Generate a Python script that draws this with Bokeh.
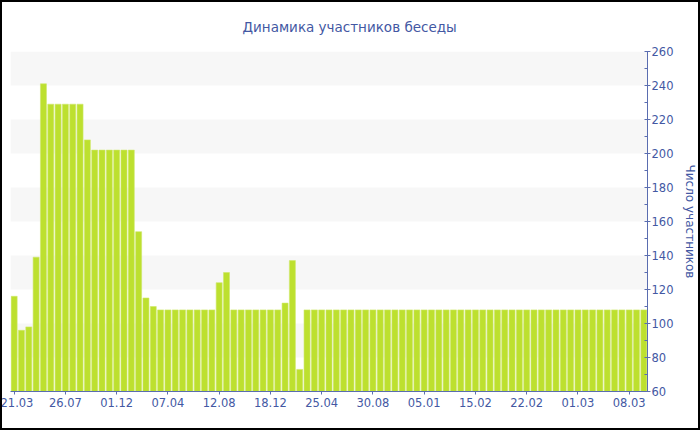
from bokeh.plotting import figure
from bokeh.models import (ColumnDataSource, FixedTicker, BoxAnnotation, LinearAxis,
                          Range1d, InlineStyleSheet)
from bokeh.embed import file_html
from bokeh.resources import INLINE

# Data: one bar per observation, date labels every 7th bar
tick_labels = ["21.03", "26.07", "01.12", "07.04", "12.08", "18.12", "25.04",
               "30.08", "05.01", "15.02", "22.02", "01.03", "08.03"]
participants = [116, 96, 98, 139, 241, 229, 229, 229, 229, 229,
                208, 202, 202, 202, 202, 202, 202, 154, 115, 110,
                108, 108, 108, 108, 108, 108, 108, 108, 124, 130,
                108, 108, 108, 108, 108, 108, 108, 112, 137, 73,
                108, 108, 108, 108, 108, 108, 108, 108, 108, 108,
                108, 108, 108, 108, 108, 108, 108, 108, 108, 108,
                108, 108, 108, 108, 108, 108, 108, 108, 108, 108,
                108, 108, 108, 108, 108, 108, 108, 108, 108, 108,
                108, 108, 108, 108, 108, 108, 108]
label_step = 7
y_min, y_max = 60, 260
band_edges = [(80, 100), (120, 140), (160, 180), (200, 220), (240, 260)]

idx = list(range(len(participants)))
src = ColumnDataSource(data=dict(x=idx, top=participants))

BLUE = "#4358a3"
AXIS = "#5a6db0"

p = figure(width=700, height=430, output_backend="svg", toolbar_location=None,
           x_range=Range1d(-0.5, len(participants) - 0.5),
           y_range=Range1d(y_min, y_max),
           y_axis_location=None, x_axis_location="below",
           min_border_left=10, min_border_right=50, min_border_top=8,
           min_border_bottom=39)
p.margin = (0, 0, 0, 0)
p.stylesheets = [InlineStyleSheet(css=(
    ":host::after { content: ''; position: absolute; left: 0; top: 0; "
    "width: 700px; height: 430px; border: 2px solid black; box-sizing: border-box; "
    "pointer-events: none; z-index: 100; }"))]

p.title.text = "Динамика участников беседы"
p.title.text_font = "DejaVu Sans"
p.title.text_font_size = "13.5px"
p.title.text_font_style = "normal"
p.title.text_color = BLUE
p.title.align = "left"
p.title.offset = 232
p.title.standoff = 33

p.grid.visible = False
p.outline_line_color = None
p.background_fill_color = "white"
p.border_fill_color = "white"

for lo, hi in band_edges:
    p.add_layout(BoxAnnotation(bottom=lo, top=hi, fill_color="#f7f7f7",
                               fill_alpha=1.0, line_color=None, level="underlay"))

p.vbar(x="x", top="top", bottom=y_min, width=0.82, source=src,
       fill_color="#bde02f", line_color="#cfe86a", line_width=0.6)

# x axis
xa = p.xaxis[0]
ticks = list(range(0, len(participants), label_step))
xa.ticker = FixedTicker(ticks=ticks)
xa.major_label_overrides = {t: lab for t, lab in zip(ticks, tick_labels)}
xa.axis_line_color = AXIS
xa.major_tick_line_color = AXIS
xa.major_tick_in = 0
xa.major_tick_out = 3
xa.minor_tick_line_color = None
xa.major_label_text_color = BLUE
xa.major_label_text_font = "DejaVu Sans"
xa.major_label_text_font_size = "11.5px"
xa.major_label_standoff = 3

# right y axis
ya = LinearAxis(axis_label="Число участников")
ya.ticker = FixedTicker(ticks=list(range(y_min, y_max + 1, 20)),
                        minor_ticks=list(range(y_min + 10, y_max, 20)))
ya.axis_line_color = AXIS
ya.major_tick_line_color = AXIS
ya.minor_tick_line_color = AXIS
ya.major_tick_in = 3
ya.major_tick_out = 3
ya.minor_tick_in = 3
ya.minor_tick_out = 0
ya.major_label_text_color = BLUE
ya.major_label_text_font = "DejaVu Sans"
ya.major_label_text_font_size = "11.5px"
ya.major_label_standoff = 1
ya.axis_label_text_color = BLUE
ya.axis_label_text_font = "DejaVu Sans"
ya.axis_label_text_font_size = "12px"
ya.axis_label_text_font_style = "normal"
ya.axis_label_standoff = 7
p.add_layout(ya, "right")

open("out.html", "w").write(file_html(p, INLINE))
